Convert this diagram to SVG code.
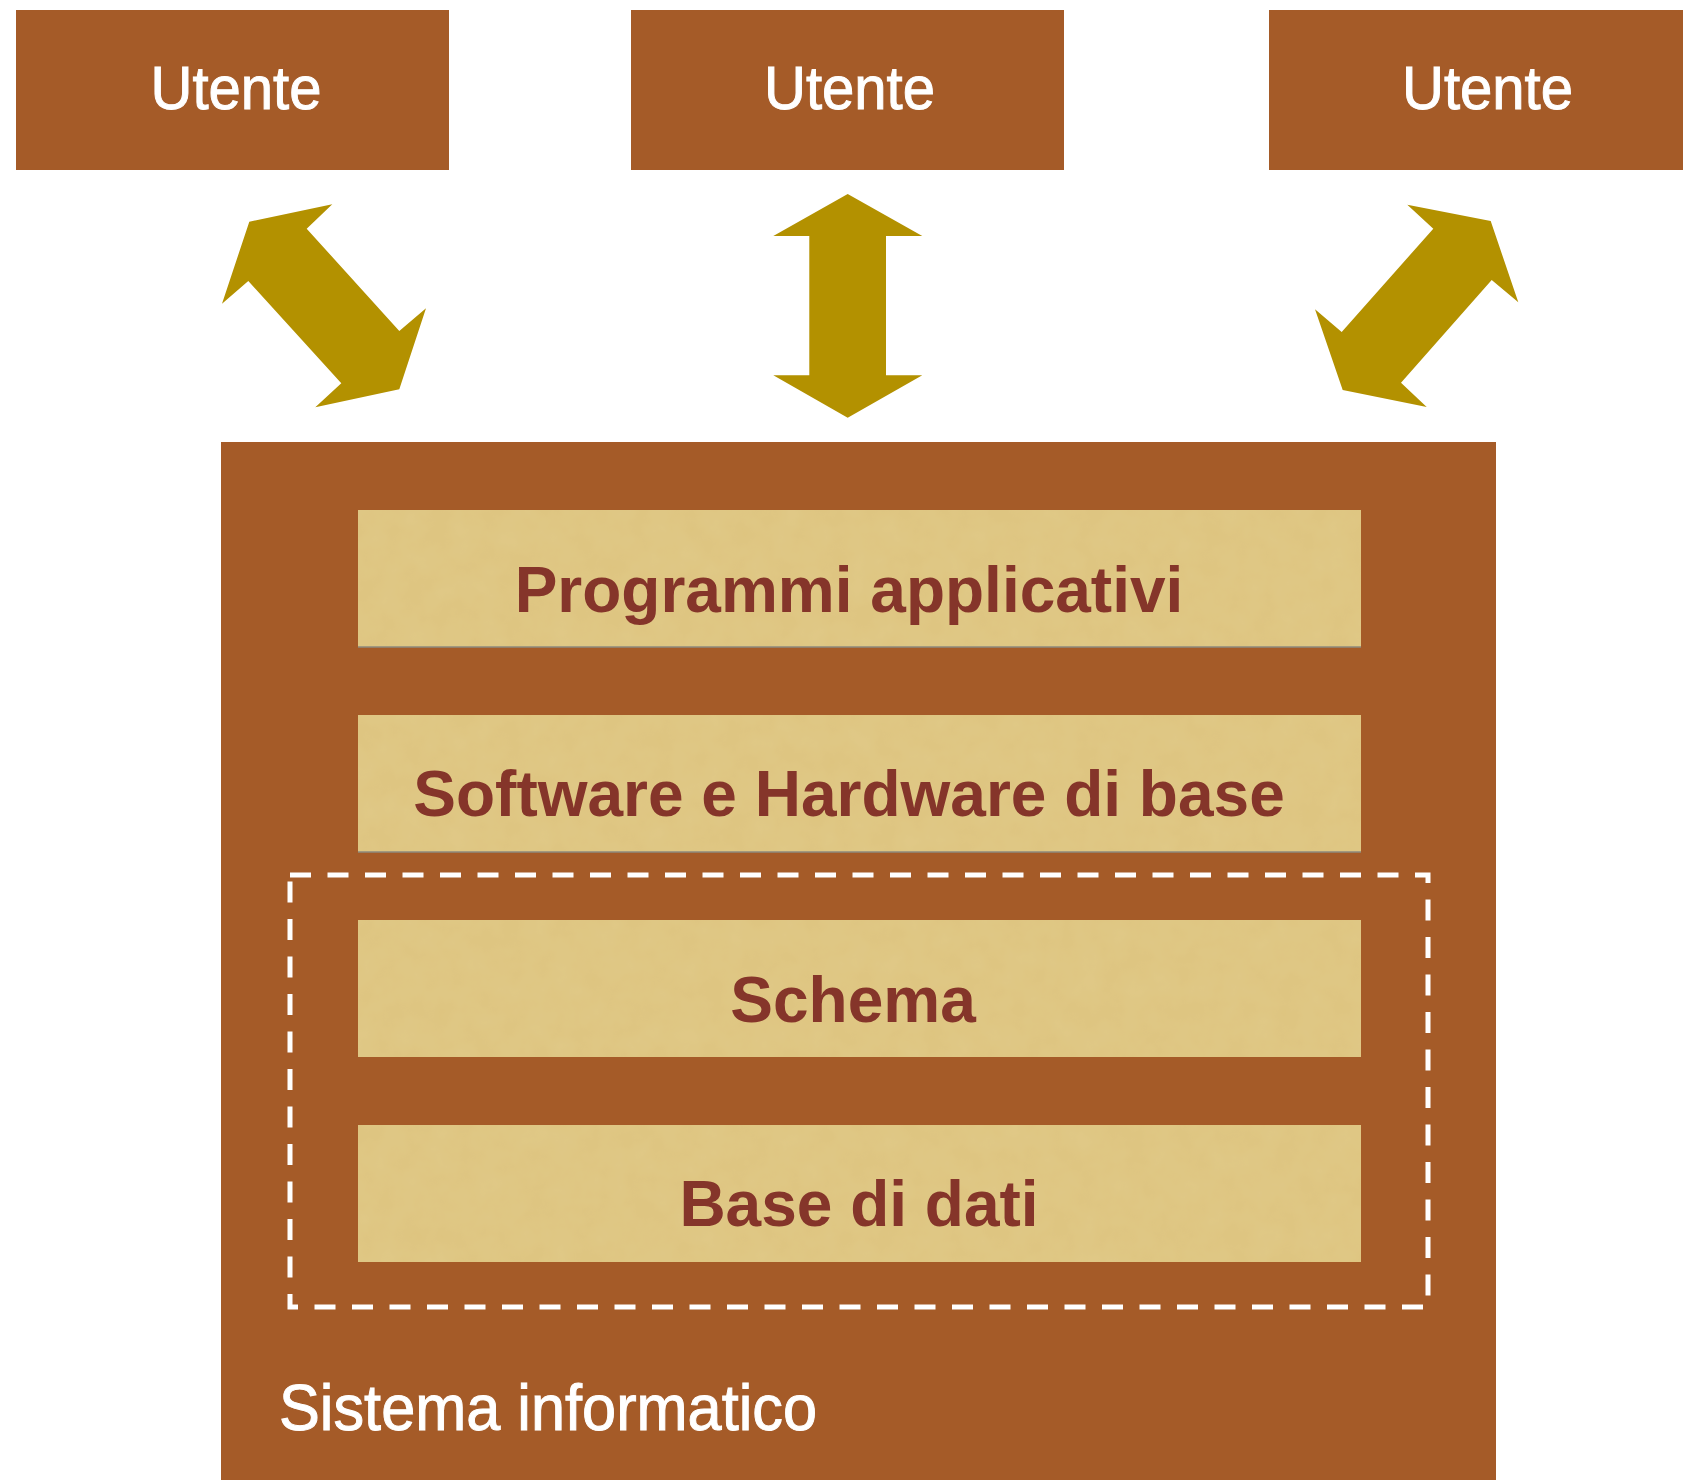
<svg xmlns="http://www.w3.org/2000/svg" width="1683" height="1480" viewBox="0 0 1683 1480">
  <defs>
    <style>
      .user { fill: #A55B28; }
      .utxt { fill: #FFFFFF; stroke: #FFFFFF; stroke-width: 1; font-family: "Liberation Sans", Arial, sans-serif; font-size: 62px; text-anchor: middle; }
      .layer { fill: #E0C886; filter: url(#paper); }
      .ltxt { fill: #85352A; font-family: "Liberation Sans", Arial, sans-serif; font-weight: bold; font-size: 64px; text-anchor: middle; }
      .arrow { fill: #B39100; }
      .edge { stroke: #8E8A7C; stroke-width: 1.5; }
    </style>
    <filter id="paper" x="0" y="0" width="100%" height="100%">
      <feTurbulence type="fractalNoise" baseFrequency="0.04" numOctaves="3" seed="4" result="noise"/>
      <feColorMatrix in="noise" type="matrix" values="0 0 0 0 0.9  0 0 0 0 0.82  0 0 0 0 0.55  0 0 0 0.3 -0.05" result="tint"/>
      <feComposite in="tint" in2="SourceGraphic" operator="in" result="t2"/>
      <feBlend in="t2" in2="SourceGraphic" mode="multiply"/>
    </filter>
  </defs>
  <rect width="1683" height="1480" fill="#FFFFFF"/>

  <g id="utente1">
    <rect class="user" x="16" y="10" width="433" height="160"/>
    <text class="utxt" x="236" y="109" textLength="171" lengthAdjust="spacingAndGlyphs">Utente</text>
  </g>
  <g id="utente2">
    <rect class="user" x="631" y="10" width="433" height="160"/>
    <text class="utxt" x="849.5" y="109" textLength="171" lengthAdjust="spacingAndGlyphs">Utente</text>
  </g>
  <g id="utente3">
    <rect class="user" x="1269" y="10" width="420" height="160"/>
    <text class="utxt" x="1487.5" y="109" textLength="171" lengthAdjust="spacingAndGlyphs">Utente</text>
  </g>

  <g id="connectors">
    <polygon class="arrow" points="249.3,221.7 332.3,204.3 306.7,228.7 399.3,331 426,308.3 399.3,389.3 315.3,407.3 341.3,383.3 248.3,281 222,303.7"/>
    <polygon class="arrow" points="847.7,194 922.3,236 886,236 886,375.3 922.3,375.3 847.7,417.7 773.3,375.3 809.3,375.3 809.3,236 773.3,236"/>
    <polygon class="arrow" points="1490.7,221 1518.3,302.3 1491.7,280 1401,382.7 1426.7,407 1342.7,390 1315,309.3 1341.7,332 1433.3,228.7 1407.3,204.7"/>
  </g>

  <g id="sistema">
    <rect class="user" x="221" y="442" width="1275" height="1040"/>
    <text x="279" y="1430" fill="#FFFFFF" stroke="#FFFFFF" stroke-width="1" font-family="'Liberation Sans', Arial, sans-serif" font-size="65" textLength="538" lengthAdjust="spacingAndGlyphs">Sistema informatico</text>
  </g>

  <g id="programmi">
    <rect class="layer" x="358" y="510" width="1003" height="137"/>
    <line class="edge" x1="358" y1="647" x2="1361" y2="647"/>
    <text class="ltxt" x="849" y="612">Programmi applicativi</text>
  </g>
  <g id="software">
    <rect class="layer" x="358" y="715" width="1003" height="137"/>
    <line class="edge" x1="358" y1="852" x2="1361" y2="852"/>
    <text class="ltxt" x="849" y="816">Software e Hardware di base</text>
  </g>
  <g id="schema">
    <rect class="layer" x="358" y="920" width="1003" height="137"/>
    <text class="ltxt" x="853" y="1022">Schema</text>
  </g>
  <g id="basedati">
    <rect class="layer" x="358" y="1125" width="1003" height="137"/>
    <text class="ltxt" x="859" y="1226">Base di dati</text>
  </g>

  <g id="dbms-boundary">
    <rect x="290" y="875" width="1138" height="432" fill="none" stroke="#FFFFFF" stroke-width="5" stroke-dasharray="21 16.5"/>
  </g>
</svg>
